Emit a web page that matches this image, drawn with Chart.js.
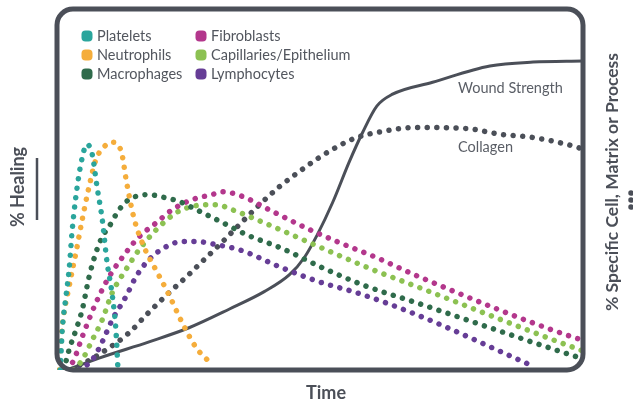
<!DOCTYPE html>
<html>
<head>
<meta charset="utf-8">
<script src="https://cdn.jsdelivr.net/npm/chart.js@4.4.0/dist/chart.umd.min.js"></script>
<style>
  html, body { margin: 0; padding: 0; background: #ffffff; }
  #wrap { width: 633px; height: 404px; position: relative; }
</style>
</head>
<body>
<div id="wrap"><canvas id="c" width="633" height="404"></canvas></div>
<script>
// ---- Data (x = time 0..100, y = percent 0..100) ----
const seriesNames = ["Platelets", "Neutrophils", "Macrophages", "Fibroblasts", "Capillaries/Epithelium", "Lymphocytes"];
const seriesColors = ["#2aa59c", "#f5ad3b", "#2f6b4b", "#b3378c", "#8cc152", "#663d96"];

const platelets = [[0.6,0],[1.0,11.1],[1.7,20.3],[2.3,27.8],[2.9,38.9],[3.6,48.1],[4.6,57.5],[5.7,62.5],[6.7,59.7],[7.6,50.8],[8.6,41.7],[9.5,30.0],[10.5,20.8],[11.2,11.1],[11.6,0]];
const neutrophils = [[0.4,0],[1.0,11.9],[2.3,23.1],[3.6,32.5],[4.8,41.7],[6.1,50.8],[7.4,58.3],[9.0,61.9],[10.5,63.1],[12.2,60.6],[13.3,51.4],[14.7,41.7],[16.6,33.9],[19.0,27.2],[21.3,20.8],[23.8,13.1],[26.5,6.1],[29.6,1.4]];
const macrophages = [[1.3,0],[2.3,5.6],[3.6,11.1],[4.8,16.7],[6.1,25.8],[7.4,32.5],[8.6,36.9],[9.9,39.7],[11.8,44.4],[13.7,47.2],[17.5,48.6],[19.4,48.1],[23.2,46.7],[26.5,44.4],[32.2,40.3],[36.0,37.5],[42.9,33.6],[50.5,28.3],[58.1,23.6],[68.4,18.6],[98.9,3.6],[100,3.1]];
const fibroblasts = [[1.9,0],[3.2,2.8],[4.8,9.2],[7.4,18.6],[9.9,25.8],[13.1,32.5],[15.6,36.9],[18.9,40.8],[21.9,44.4],[25.7,47.2],[29.5,48.6],[31.4,49.4],[35.2,48.1],[41.0,43.9],[48.0,38.9],[53.7,35.3],[60.8,31.1],[68.4,26.1],[98.5,8.9],[100,8.3]];
const capillaries = [[3.2,0],[4.8,2.8],[6.7,8.3],[8.6,13.9],[10.5,21.4],[13.1,27.8],[15.6,33.3],[18.9,38.9],[22.7,43.6],[25.7,45.3],[29.0,45.8],[30.3,45.8],[33.3,44.4],[37.9,41.7],[45.5,36.9],[52.4,32.5],[60.0,27.8],[68.4,23.1],[99.4,5.6],[100,5.3]];
const lymphocytes = [[4.2,0],[6.7,2.8],[8.6,7.8],[10.5,13.9],[13.1,20.3],[15.0,25.8],[17.5,30.6],[20.8,34.2],[23.8,35.6],[26.5,35.6],[30.3,34.7],[34.7,33.3],[42.3,28.6],[49.9,24.4],[57.0,21.4],[68.4,15.3],[90.9,0.8]];
const collagen = [[2.7,0],[8.4,4.7],[13.7,10.3],[17.0,15.3],[21.3,21.4],[24.6,25.8],[27.0,29.2],[30.9,34.7],[34.7,40.3],[38.5,45.8],[42.3,50.8],[46.1,55.0],[49.9,58.9],[53.7,62.2],[57.0,64.4],[61.9,66.1],[68.4,67.2],[77.9,66.9],[84.2,65.3],[90.5,64.4],[98.9,61.7],[100,61.1]];
const woundStrength = [[1.9,0],[8.0,3.3],[17.5,7.8],[25.1,11.7],[32.8,16.9],[39.4,21.7],[44.2,26.4],[47.0,31.1],[49.5,37.5],[52.4,46.4],[55.6,57.8],[58.1,65.8],[60.8,73.1],[63.8,76.4],[71.4,79.7],[82.3,84.2],[90.5,85.3],[100,85.6]];

const axisTitles = { x: "Time", left: "% Healing", right: "% Specific Cell, Matrix or Process" };
const curveLabels = { wound: "Wound Strength", collagen: "Collagen" };

const INK = "#4b4f58";
const TEXT = "#52565e";
const DOTS = [0.01, 9.6];

function toXY(arr) { return arr.map(p => ({ x: p[0], y: p[1] })); }

const cellSeries = [platelets, neutrophils, macrophages, fibroblasts, capillaries, lymphocytes];

const datasets = cellSeries.map((s, i) => ({
  label: seriesNames[i],
  data: toXY(s),
  borderColor: seriesColors[i],
  backgroundColor: seriesColors[i],
  borderWidth: 5.5,
  borderDash: DOTS,
  borderCapStyle: "round",
  pointRadius: 0,
  cubicInterpolationMode: "monotone",
  fill: false
}));
datasets.push({
  label: curveLabels.collagen,
  data: toXY(collagen),
  borderColor: INK,
  borderWidth: 5.5,
  borderDash: DOTS,
  borderCapStyle: "round",
  pointRadius: 0,
  cubicInterpolationMode: "monotone",
  fill: false
});
datasets.push({
  label: curveLabels.wound,
  data: toXY(woundStrength),
  borderColor: INK,
  borderWidth: 3,
  pointRadius: 0,
  cubicInterpolationMode: "monotone",
  fill: false
});

const decor = {
  id: "decor",
  afterDatasetsDraw(chart) {
    const ctx = chart.ctx;
    const a = chart.chartArea;
    ctx.save();
    // frame
    ctx.strokeStyle = INK;
    ctx.lineWidth = 5;
    ctx.beginPath();
    ctx.roundRect(a.left, a.top, a.right - a.left, a.bottom - a.top, 16);
    ctx.stroke();

    // legend
    ctx.font = "14.5px Lato";
    ctx.textBaseline = "middle";
    ctx.textAlign = "left";
    const cols = [87, 201];
    const textX = [97, 211];
    const rows = [36, 55, 74];
    seriesNames.forEach((n, i) => {
      const c = Math.floor(i / 3), r = i % 3;
      ctx.fillStyle = seriesColors[i];
      ctx.beginPath();
      ctx.roundRect(cols[c] - 5.5, rows[r] - 5.5, 11, 11, 4);
      ctx.fill();
      ctx.fillStyle = TEXT;
      ctx.fillText(n, textX[c], rows[r] + 0.5);
    });

    // curve labels
    ctx.font = "14.5px Lato";
    ctx.fillStyle = "#5a5e66";
    ctx.fillText(curveLabels.wound, 458, 88);
    ctx.fillText(curveLabels.collagen, 458, 147);

    // x title
    ctx.font = "bold 18px Lato";
    ctx.fillStyle = INK;
    ctx.textAlign = "center";
    ctx.fillText(axisTitles.x, 326, 393);

    // left title
    ctx.save();
    ctx.translate(18, 187);
    ctx.rotate(-Math.PI / 2);
    ctx.font = "bold 18px Lato";
    ctx.fillText(axisTitles.left, 0, 0);
    ctx.restore();
    ctx.strokeStyle = INK;
    ctx.lineWidth = 2.5;
    ctx.beginPath();
    ctx.moveTo(37, 158);
    ctx.lineTo(37, 220);
    ctx.stroke();

    // right title
    ctx.save();
    ctx.translate(612, 182);
    ctx.rotate(-Math.PI / 2);
    ctx.font = "bold 17.5px Lato";
    ctx.fillText(axisTitles.right, 0, 0);
    ctx.restore();
    ctx.strokeStyle = INK;
    ctx.lineWidth = 5.5;
    ctx.lineCap = "round";
    ctx.setLineDash([0.01, 7]);
    ctx.beginPath();
    ctx.moveTo(631, 193);
    ctx.lineTo(631, 214);
    ctx.stroke();
    ctx.restore();
  }
};

new Chart(document.getElementById("c"), {
  type: "line",
  data: { datasets },
  options: {
    responsive: false,
    animation: false,
    devicePixelRatio: 1,
    layout: { padding: { left: 57, top: 9, right: 50, bottom: 34 } },
    plugins: { legend: { display: false }, tooltip: { enabled: false } },
    scales: {
      x: { type: "linear", min: 0, max: 100, display: false },
      y: { type: "linear", min: 0, max: 100, display: false }
    }
  },
  plugins: [decor]
});
</script>
</body>
</html>
